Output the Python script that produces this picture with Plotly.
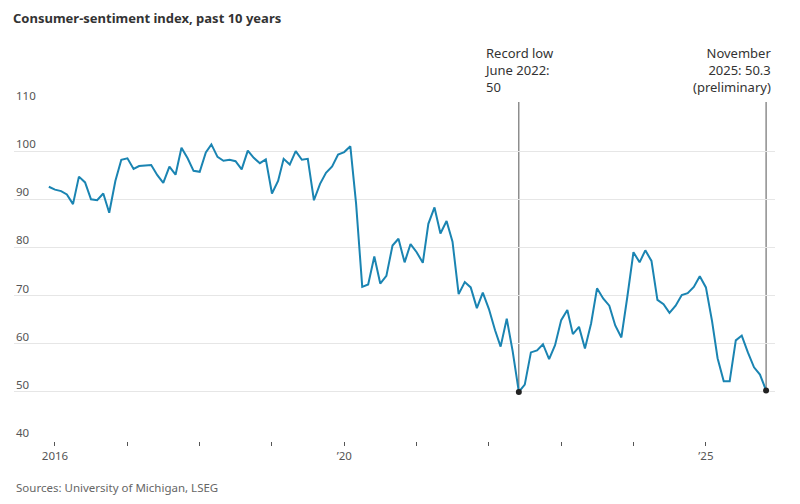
import plotly.graph_objects as go

months = ["2015-12"] + [f"{y}-{m:02d}" for y in range(2016, 2026) for m in range(1, 13)]
months = [m + "-01" for m in months if m <= "2025-11"]

sentiment = [
    92.6,
    92.0, 91.7, 91.0, 89.0, 94.7, 93.5, 90.0, 89.8, 91.2, 87.2, 93.8, 98.2,
    98.5, 96.3, 96.9, 97.0, 97.1, 95.0, 93.4, 96.8, 95.1, 100.7, 98.5, 95.9,
    95.7, 99.7, 101.4, 98.8, 98.0, 98.2, 97.9, 96.2, 100.1, 98.6, 97.5, 98.3,
    91.2, 93.8, 98.4, 97.2, 100.0, 98.2, 98.4, 89.8, 93.2, 95.5, 96.8, 99.3,
    99.8, 101.0, 89.1, 71.8, 72.3, 78.1, 72.5, 74.1, 80.4, 81.8, 76.9, 80.7,
    79.0, 76.8, 84.9, 88.3, 82.9, 85.5, 81.2, 70.3, 72.8, 71.7, 67.4, 70.6,
    67.2, 62.8, 59.4, 65.2, 58.4, 50.0, 51.5, 58.2, 58.6, 59.9, 56.8, 59.7,
    64.9, 67.0, 62.0, 63.5, 59.0, 64.2, 71.5, 69.4, 67.9, 63.8, 61.3, 69.7,
    79.0, 76.9, 79.4, 77.2, 69.1, 68.2, 66.4, 67.9, 70.1, 70.5, 71.8, 74.0,
    71.7, 64.7, 57.0, 52.2, 52.2, 60.7, 61.7, 58.2, 55.1, 53.6, 50.3,
]

marker_dates = ["2022-06-01", "2025-11-01"]
marker_values = [50.0, 50.3]
marker_labels = ["Record low<br>June 2022:<br>50", "November<br>2025: 50.3<br>(preliminary)"]

tick_dates = [f"{y}-01-01" for y in range(2016, 2026)]
tick_labels = ["2016", "", "", "", "’20", "", "", "", "", "’25"]
y_ticks = [40, 50, 60, 70, 80, 90, 100, 110]

FONT = "Noto Sans"

fig = go.Figure()
fig.add_trace(go.Scatter(
    x=months, y=sentiment, mode="lines",
    line=dict(color="#1a84b2", width=2), hoverinfo="skip", showlegend=False,
))

for d, v in zip(marker_dates, marker_values):
    fig.add_shape(type="line", xref="x", yref="y", x0=d, x1=d, y0=v, y1=110.2,
                  line=dict(color="#555555", width=1), layer="below")

fig.add_trace(go.Scatter(
    x=marker_dates, y=marker_values, mode="markers",
    marker=dict(color="#222222", size=6), hoverinfo="skip", showlegend=False,
))

annotations = [
    dict(x=marker_dates[0], y=1, xref="x", yref="paper", yshift=4,
         text=marker_labels[0], showarrow=False, xanchor="center", yanchor="bottom",
         align="left", font=dict(family=FONT, size=13, color="#333333")),
    dict(x=marker_dates[1], y=1, xref="x", yref="paper", yshift=4, xshift=7,
         text=marker_labels[1], showarrow=False, xanchor="right", yanchor="bottom",
         align="right", font=dict(family=FONT, size=13, color="#333333")),
    dict(x=0, xref="paper", y=-0.1357, yref="paper", xanchor="left", yanchor="middle",
         text="Sources: University of Michigan, LSEG", showarrow=False,
         font=dict(family=FONT, size=11.5, color="#666666")),
]
for v in y_ticks:
    annotations.append(dict(x=0, xref="paper", y=v, yref="y", text=str(v), showarrow=False,
                            xanchor="left", yanchor="bottom", yshift=-2,
                            font=dict(family=FONT, size=11.5, color="#555555")))

# the page body adds an 8px margin, so the figure is sized/offset to compensate
fig.update_layout(
    width=792, height=496,
    margin=dict(l=6, r=25, t=94, b=63),
    paper_bgcolor="white", plot_bgcolor="white",
    title=dict(text="<b>Consumer-sentiment index, past 10 years</b>", x=0.0063, xanchor="left",
               y=0.979, yanchor="middle",
               font=dict(family=FONT, size=13, color="#333333")),
    font=dict(family=FONT),
    xaxis=dict(
        type="date", range=["2015-06-08", "2025-12-16"],
        tickvals=tick_dates, ticktext=tick_labels,
        showgrid=False, zeroline=False, showline=False,
        ticks="outside", ticklen=4, tickwidth=1, tickcolor="#555555",
        tickfont=dict(family=FONT, size=11.5, color="#555555"),
    ),
    yaxis=dict(
        range=[39.8, 110.2], tickvals=y_ticks, showticklabels=False,
        showgrid=True, gridcolor="#e6e6e6", gridwidth=1, zeroline=False, showline=False,
    ),
    annotations=annotations,
)

fig.write_html("out.html")
